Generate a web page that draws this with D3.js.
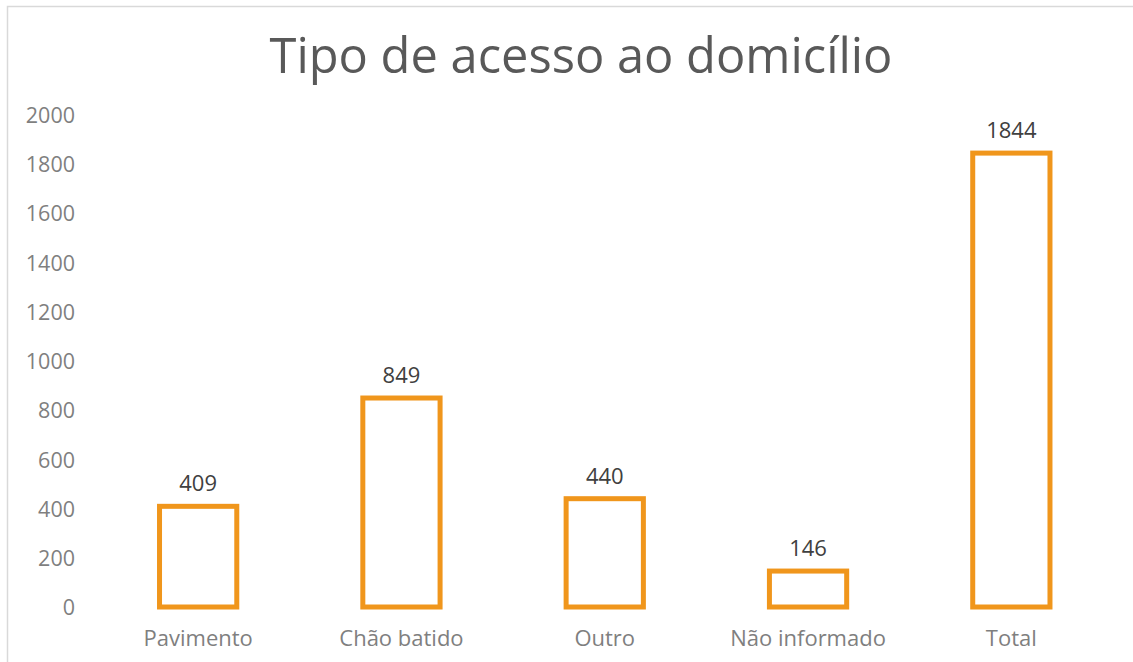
<!DOCTYPE html>
<html>
<head>
<meta charset="utf-8">
<script src="https://cdn.jsdelivr.net/npm/d3@7"></script>
<style>
  html, body { margin: 0; padding: 0; background: #fff; }
  svg { display: block; }
  text { font-family: "Open Sans", sans-serif; }
</style>
</head>
<body>
<svg id="chart" width="1133" height="662"></svg>
<script>
const title = "Tipo de acesso ao domicílio";
const categories = ["Pavimento", "Chão batido", "Outro", "Não informado", "Total"];
const values = [409, 849, 440, 146, 1844];
const yTicks = [0, 200, 400, 600, 800, 1000, 1200, 1400, 1600, 1800, 2000];

const W = 1133, H = 662;
const svg = d3.select("#chart");

// chart border
svg.append("rect")
  .attr("x", 7.5).attr("y", 6.5)
  .attr("width", W).attr("height", H)
  .attr("fill", "#fff").attr("stroke", "#d9d9d9").attr("stroke-width", 1.5);

const x = d3.scaleBand().domain(categories).range([96.5, 1113]).paddingInner(0.62).paddingOuter(0.31);
const y = d3.scaleLinear().domain([0, 2000]).range([607, 114.7]);

// title
svg.append("text")
  .attr("x", 581).attr("y", 73)
  .attr("text-anchor", "middle")
  .attr("font-size", 48.8)
  .attr("fill", "#595959")
  .text(title);

// y axis
const yAxis = d3.axisLeft(y).tickValues(yTicks).tickSize(0).tickPadding(0).tickFormat(d3.format("d"));
const gy = svg.append("g").attr("transform", "translate(75,0)").call(yAxis);
gy.select(".domain").remove();
gy.selectAll("text").attr("font-size", 21.5).attr("fill", "#7f7f7f").attr("font-family", "Open Sans, sans-serif").attr("dy", "0.36em");

// x axis
const xAxis = d3.axisBottom(x).tickSize(0).tickPadding(0);
const gx = svg.append("g").attr("transform", "translate(0,646)").call(xAxis);
gx.select(".domain").remove();
gx.selectAll("text").attr("font-size", 22).attr("fill", "#7f7f7f").attr("font-family", "Open Sans, sans-serif").attr("dy", "0");

// bars
const data = categories.map((c, i) => ({ c, v: values[i] }));
svg.append("g").selectAll("rect").data(data).join("rect")
  .attr("x", d => x(d.c))
  .attr("y", d => y(d.v))
  .attr("width", x.bandwidth())
  .attr("height", d => y(0) - y(d.v))
  .attr("fill", "#fff")
  .attr("stroke", "#f0961c")
  .attr("stroke-width", 5);

// data labels
svg.append("g").selectAll("text").data(data).join("text")
  .attr("x", d => x(d.c) + x.bandwidth() / 2)
  .attr("y", d => y(d.v) - 15)
  .attr("text-anchor", "middle")
  .attr("font-size", 22)
  .attr("fill", "#404040")
  .text(d => d.v);
</script>
</body>
</html>
